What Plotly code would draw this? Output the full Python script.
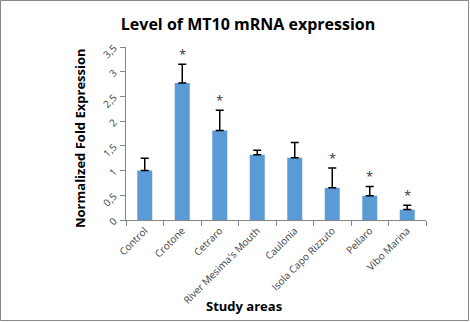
import plotly.graph_objects as go

categories = ["Control", "Crotone", "Cetraro", "River Mesima's Mouth", "Caulonia",
              "Isola Capo Rizzuto", "Pellaro", "Vibo Marina"]
values = [1.00, 2.77, 1.81, 1.32, 1.26, 0.65, 0.49, 0.21]
errors = [0.25, 0.38, 0.41, 0.09, 0.31, 0.40, 0.19, 0.09]
significant = [False, True, True, False, False, True, True, True]
y_ticks = [0, 0.5, 1, 1.5, 2, 2.5, 3, 3.5]
y_ticklabels = ["0", "0,5", "1", "1,5", "2", "2,5", "3", "3,5"]

W, H = 470, 322
L, R, T, B = 126, 44, 47, 102
FONT = "Open Sans"
pw, ph = W - L - R, H - T - B

fig = go.Figure()
fig.add_trace(go.Bar(
    x=categories, y=values,
    marker=dict(color="#5B9BD5", line=dict(width=0)),
    error_y=dict(type="data", array=errors, arrayminus=[0]*len(errors), symmetric=False,
                 color="black", thickness=1.5, width=4),
    width=0.4,
))

for c, v, e, s in zip(categories, values, errors, significant):
    if s:
        fig.add_annotation(x=c, y=v + e, text="*", showarrow=False, yanchor="bottom",
                           yshift=-1, font=dict(family=FONT, size=13, color="#333333"))

# axis titles as paper annotations (pixel-placed)
fig.add_annotation(xref="paper", yref="paper", x=(244 - L) / pw, y=(H - B - 306) / ph,
                   text="<b>Study areas</b>", showarrow=False, xanchor="center", yanchor="middle",
                   font=dict(family=FONT, size=13, color="black"))
fig.add_annotation(xref="paper", yref="paper", x=(80 - L) / pw, y=(H - B - 138) / ph,
                   text="<b>Normalized Fold Expression</b>", showarrow=False, textangle=-90,
                   xanchor="center", yanchor="middle",
                   font=dict(family=FONT, size=13, color="black"))

fig.update_layout(
    width=W, height=H,
    margin=dict(l=L, r=R, t=T, b=B, autoexpand=False),
    paper_bgcolor="white", plot_bgcolor="white",
    showlegend=False,
    title=dict(text="<b>Level of MT10 mRNA expression</b>", x=(248) / W, xanchor="center",
               y=1 - 24 / H, yanchor="middle",
               font=dict(family=FONT, size=16, color="black")),
    font=dict(family=FONT, color="#404040"),
)
fig.update_xaxes(
    type="category", showline=True, linecolor="#868686", linewidth=1,
    ticks="outside", tickson="boundaries", ticklen=5, tickcolor="#868686",
    tickangle=-45, tickfont=dict(family=FONT, size=10, color="#404040"),
    showgrid=False, automargin=False,
)
fig.update_yaxes(
    range=[0, 3.5], tickvals=y_ticks, ticktext=y_ticklabels,
    showline=True, linecolor="#868686", linewidth=1,
    ticks="outside", ticklen=5, tickcolor="#868686",
    tickangle=-45, tickfont=dict(family=FONT, size=10, color="#404040"),
    ticklabelstandoff=4,
    showgrid=False, zeroline=False, automargin=False,
)

fig.add_shape(type="rect", xref="paper", yref="paper",
              x0=(-L + 0.5) / pw, x1=1 + (R - 1.5) / pw,
              y0=(-B + 1.5) / ph, y1=1 + (T - 0.5) / ph,
              line=dict(color="#888888", width=1), fillcolor="rgba(0,0,0,0)")

fig.write_html("out.html")
